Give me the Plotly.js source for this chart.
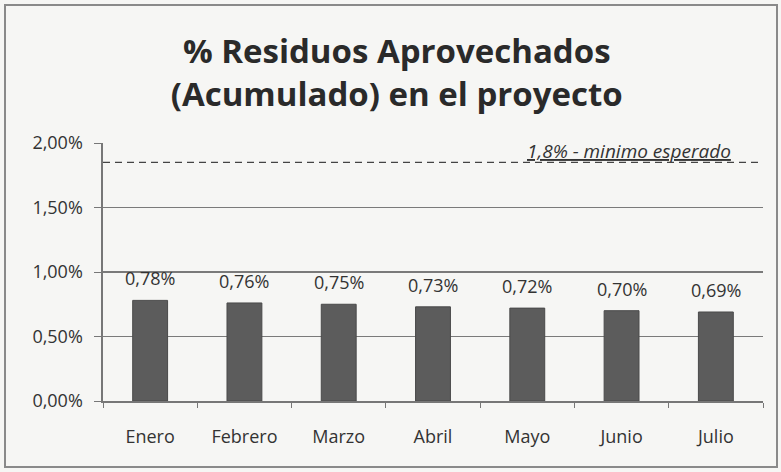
<!DOCTYPE html>
<html>
<head>
<meta charset="utf-8">
<script src="https://cdn.plot.ly/plotly-3.0.1.min.js"></script>
<style>
  html, body { margin: 0; padding: 0; background: #f6f6f4; }
  #chart { position: absolute; left: 0; top: 0; width: 781px; height: 472px; }
  #frame { position: absolute; left: 4px; top: 4px; width: 770px; height: 460px;
           border: 2px solid #8a8a8a; pointer-events: none; }
</style>
</head>
<body>
<div id="chart"></div>
<div id="frame"></div>
<script>
const months = ["Enero", "Febrero", "Marzo", "Abril", "Mayo", "Junio", "Julio"];
const values = [0.78, 0.76, 0.75, 0.73, 0.72, 0.70, 0.69];
const valueLabels = ["0,78%", "0,76%", "0,75%", "0,73%", "0,72%", "0,70%", "0,69%"];
const targetValue = 1.85;
const targetLabel = "1,8% - minimo esperado";
const yTicks = [0, 0.5, 1.0, 1.5, 2.0];
const yTickLabels = ["0,00%", "0,50%", "1,00%", "1,50%", "2,00%"];

const fontFam = "'Open Sans', 'Noto Sans', sans-serif";
const txtColor = "#333333";

const trace = {
  type: "bar",
  x: months,
  y: values,
  width: 0.37,
  marker: { color: "#5c5c5c", line: { color: "#4a4a4a", width: 1 } },
  hoverinfo: "skip"
};

const labelAnnotations = months.map((m, i) => ({
  xref: "x", yref: "y",
  x: m, y: values[i],
  xanchor: "center", yanchor: "bottom",
  yshift: 8,
  text: valueLabels[i],
  showarrow: false,
  font: { family: fontFam, size: 18, color: txtColor }
}));

const layout = {
  width: 781,
  height: 472,
  paper_bgcolor: "#f6f6f4",
  plot_bgcolor: "rgba(0,0,0,0)",
  margin: { l: 103, r: 18, t: 143, b: 71 },
  showlegend: false,
  title: {
    text: "<b>% Residuos Aprovechados<br>(Acumulado) en el proyecto</b>",
    font: { family: fontFam, size: 33, color: "#2a2a2a" },
    x: 0.508, xanchor: "center",
    y: 0.866, yanchor: "top"
  },
  xaxis: {
    type: "category",
    showline: true,
    linecolor: "#777777",
    linewidth: 1.6,
    ticks: "outside",
    tickson: "boundaries",
    ticklen: 5,
    tickcolor: "#777777",
    ticklabelstandoff: 19,
    tickfont: { family: fontFam, size: 18, color: txtColor },
    showgrid: false
  },
  yaxis: {
    range: [0, 2.0],
    tickmode: "array",
    tickvals: yTicks,
    ticktext: yTickLabels,
    showline: true,
    linecolor: "#777777",
    linewidth: 1.6,
    ticks: "outside",
    ticklen: 7,
    tickcolor: "#777777",
    ticklabelstandoff: 8,
    gridcolor: "#7a7a7a",
    gridwidth: 1.6,
    zeroline: false,
    tickfont: { family: fontFam, size: 18, color: txtColor }
  },
  shapes: [{
    type: "line",
    xref: "paper", yref: "y",
    x0: 0, x1: 1, y0: targetValue, y1: targetValue,
    line: { color: "#444444", width: 1.4, dash: "7px,5px" }
  }],
  annotations: labelAnnotations.concat([{
    xref: "paper", yref: "y",
    x: 0.955, y: targetValue,
    xanchor: "right", yanchor: "bottom",
    yshift: -4,
    text: "<i><u>" + targetLabel + "</u></i>",
    showarrow: false,
    font: { family: fontFam, size: 19, color: txtColor }
  }])
};

Plotly.newPlot("chart", [trace], layout, { displayModeBar: false, staticPlot: true });
</script>
</body>
</html>
